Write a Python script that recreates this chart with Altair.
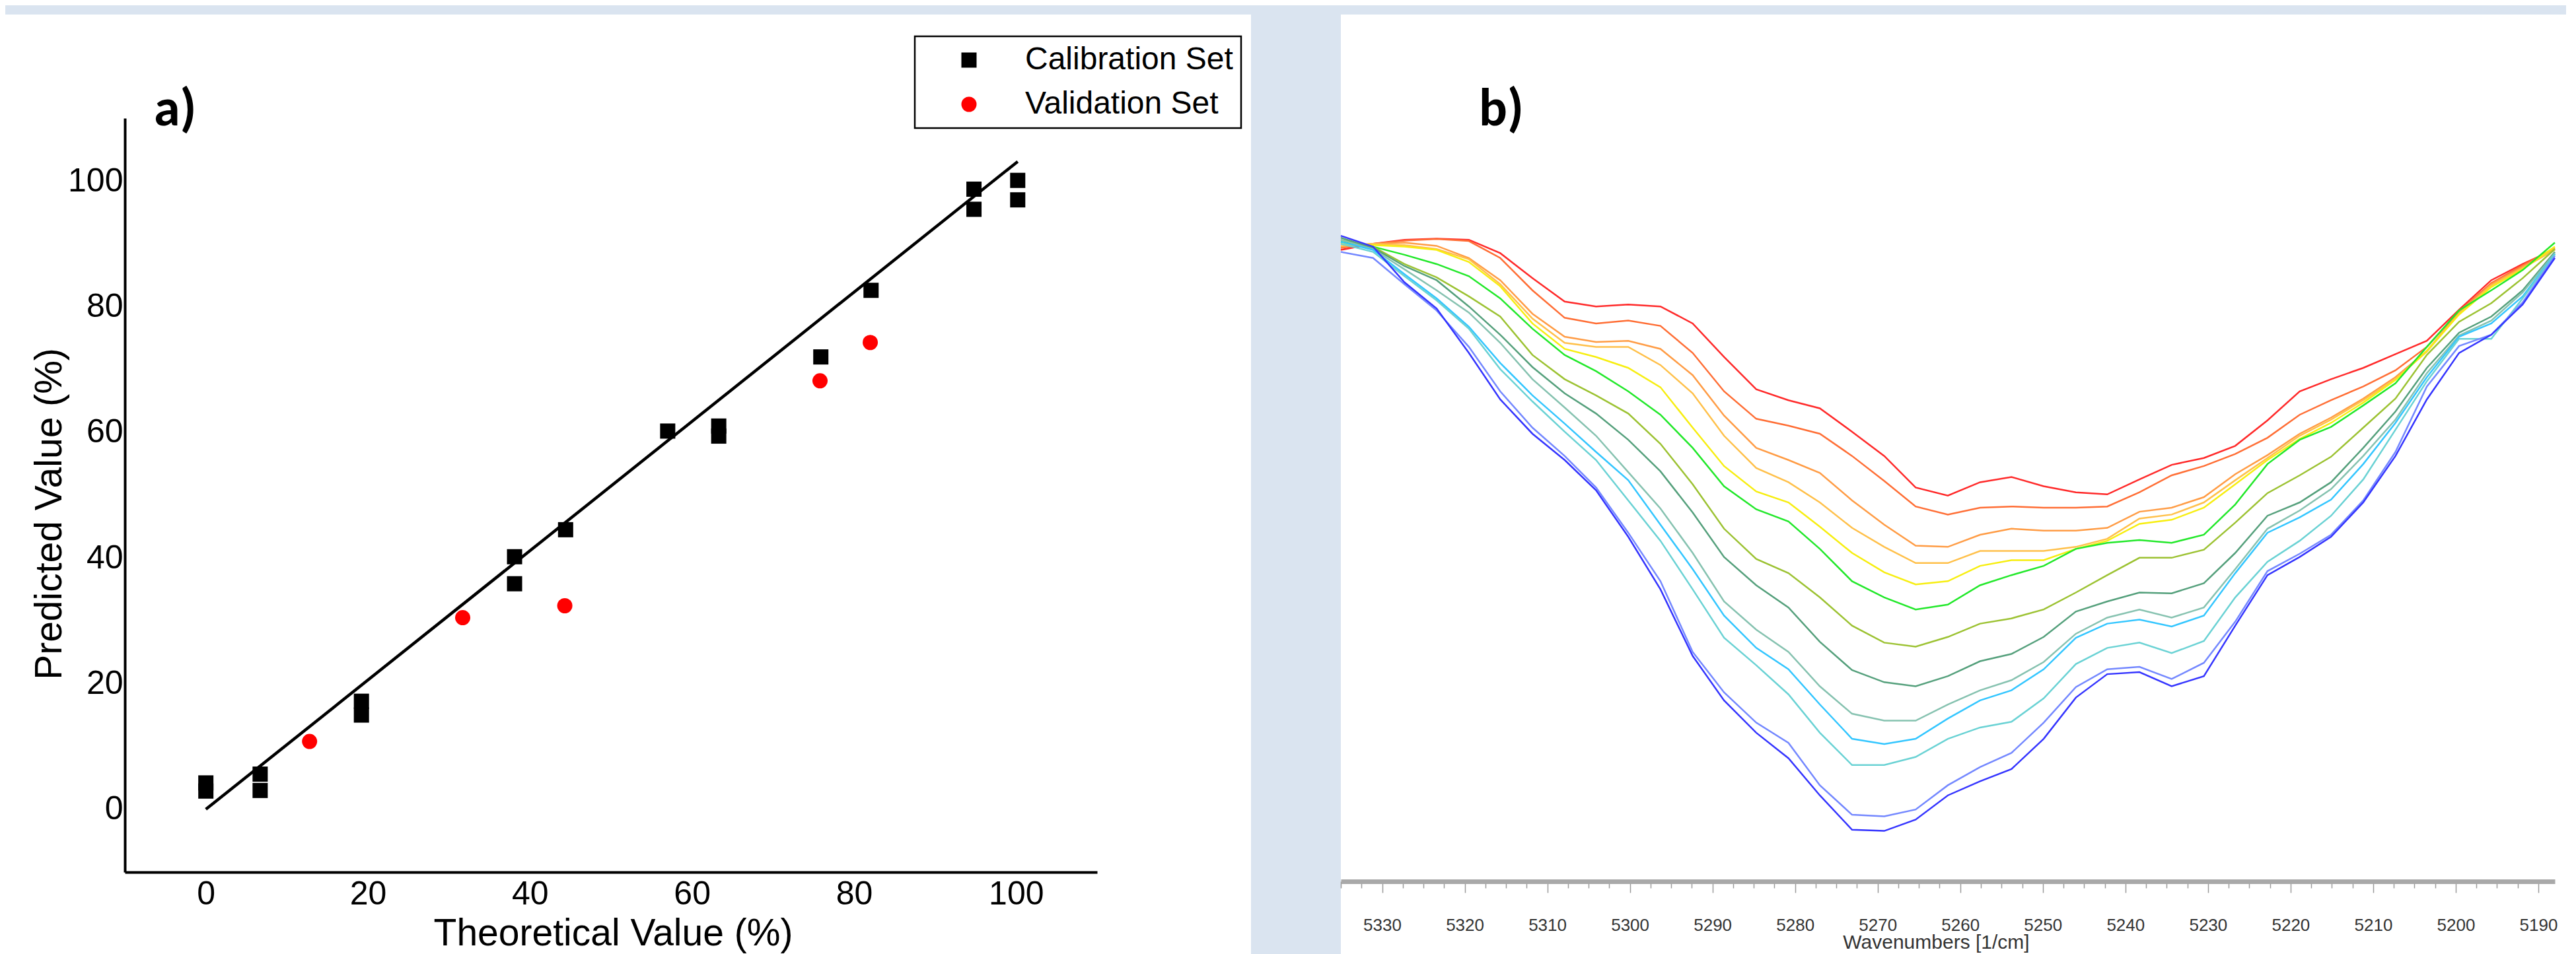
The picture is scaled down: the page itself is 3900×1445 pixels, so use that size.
import altair as alt
import pandas as pd

NARROW = "Liberation Sans Narrow, Arial Narrow, Liberation Sans, Arial"
SANS = "Liberation Sans, Arial"
BOLD = "Carlito, Lato, Open Sans"

# ---------------- panel a) data ----------------
cal_x = [0, 0, 6.7, 6.7, 19.2, 19.2, 38.1, 38.1, 44.4, 57.0, 63.3, 63.3, 75.9, 82.1, 94.8, 94.8, 100.2, 100.2]
cal_y = [4.2, 2.9, 5.6, 3.0, 17.2, 15.0, 40.2, 35.9, 44.5, 60.2, 61.0, 59.4, 72.0, 82.6, 98.7, 95.5, 100.1, 97.0]
val_x = [12.8, 31.7, 44.3, 75.8, 82.0]
val_y = [10.8, 30.5, 32.4, 68.2, 74.3]
fit_x = [0, 100.2]
fit_y = [0.0, 103.1]
axis_ticks_a = [0, 20, 40, 60, 80, 100]
set_names = ["Calibration Set", "Validation Set"]

# ---------------- panel b) data ----------------
wavenumbers = [5335.0, 5331.1, 5327.3, 5323.4, 5319.5, 5315.7, 5311.8, 5307.9, 5304.1, 5300.2,
               5296.3, 5292.4, 5288.6, 5284.7, 5280.8, 5277.0, 5273.1, 5269.2, 5265.4, 5261.5,
               5257.6, 5253.8, 5249.9, 5246.0, 5242.2, 5238.3, 5234.4, 5230.5, 5226.7, 5222.8,
               5218.9, 5215.1, 5211.2, 5207.3, 5203.5, 5199.6, 5195.7, 5191.9, 5188.0]

s_red = [1.540, 1.555, 1.565, 1.568, 1.565, 1.532, 1.470, 1.412, 1.400, 1.405, 1.400, 1.358, 1.275,
         1.195, 1.168, 1.148, 1.090, 1.030, 0.952, 0.932, 0.965, 0.978, 0.955, 0.940, 0.935, 0.972,
         1.008, 1.025, 1.055, 1.118, 1.190, 1.220, 1.248, 1.282, 1.315, 1.392, 1.465, 1.505, 1.542]
s_tomato = [1.545, 1.555, 1.563, 1.567, 1.562, 1.520, 1.440, 1.372, 1.358, 1.365, 1.352, 1.285, 1.190,
            1.122, 1.105, 1.085, 1.030, 0.968, 0.905, 0.885, 0.902, 0.905, 0.902, 0.902, 0.905, 0.940,
            0.982, 1.005, 1.035, 1.075, 1.132, 1.168, 1.202, 1.242, 1.300, 1.388, 1.458, 1.502, 1.545]
s_orange = [1.548, 1.555, 1.558, 1.550, 1.520, 1.465, 1.382, 1.325, 1.312, 1.315, 1.295, 1.230, 1.130,
            1.050, 1.020, 0.988, 0.920, 0.860, 0.808, 0.805, 0.835, 0.850, 0.845, 0.845, 0.852, 0.892,
            0.902, 0.928, 0.985, 1.032, 1.085, 1.125, 1.172, 1.225, 1.290, 1.385, 1.455, 1.498, 1.542]
s_gold = [1.550, 1.555, 1.552, 1.542, 1.517, 1.455, 1.370, 1.310, 1.300, 1.300, 1.255, 1.185, 1.080,
          1.000, 0.965, 0.915, 0.852, 0.805, 0.765, 0.765, 0.795, 0.795, 0.795, 0.805, 0.825, 0.875,
          0.885, 0.915, 0.970, 1.025, 1.080, 1.120, 1.168, 1.220, 1.288, 1.382, 1.452, 1.495, 1.540]
s_yellow = [1.555, 1.552, 1.548, 1.540, 1.510, 1.450, 1.358, 1.295, 1.275, 1.248, 1.200, 1.100, 1.005,
            0.942, 0.915, 0.855, 0.790, 0.742, 0.712, 0.720, 0.758, 0.772, 0.772, 0.800, 0.820, 0.862,
            0.872, 0.902, 0.960, 1.020, 1.072, 1.112, 1.162, 1.218, 1.290, 1.380, 1.448, 1.492, 1.548]
s_green = [1.560, 1.548, 1.528, 1.505, 1.475, 1.420, 1.345, 1.280, 1.240, 1.190, 1.132, 1.050, 0.955,
           0.898, 0.868, 0.800, 0.720, 0.680, 0.650, 0.662, 0.710, 0.735, 0.758, 0.800, 0.815, 0.822,
           0.815, 0.835, 0.910, 1.010, 1.070, 1.102, 1.155, 1.210, 1.300, 1.390, 1.440, 1.490, 1.558]
s_ygreen = [1.565, 1.548, 1.505, 1.472, 1.425, 1.375, 1.280, 1.220, 1.180, 1.135, 1.060, 0.960, 0.850,
            0.775, 0.740, 0.680, 0.610, 0.568, 0.558, 0.582, 0.615, 0.628, 0.650, 0.692, 0.735, 0.778,
            0.778, 0.798, 0.865, 0.938, 0.982, 1.028, 1.100, 1.172, 1.280, 1.362, 1.408, 1.470, 1.542]
s_seagreen = [1.570, 1.545, 1.500, 1.465, 1.400, 1.330, 1.250, 1.185, 1.135, 1.070, 0.992, 0.890, 0.780,
              0.710, 0.655, 0.570, 0.500, 0.470, 0.460, 0.485, 0.522, 0.540, 0.582, 0.645, 0.670, 0.692,
              0.690, 0.715, 0.790, 0.882, 0.915, 0.965, 1.050, 1.140, 1.248, 1.335, 1.375, 1.440, 1.535]
s_grayteal = [1.565, 1.542, 1.492, 1.440, 1.385, 1.310, 1.220, 1.150, 1.080, 0.990, 0.900, 0.790, 0.670,
              0.600, 0.545, 0.460, 0.392, 0.375, 0.375, 0.415, 0.450, 0.475, 0.520, 0.590, 0.630, 0.650,
              0.630, 0.655, 0.750, 0.850, 0.895, 0.948, 1.030, 1.120, 1.235, 1.328, 1.365, 1.435, 1.532]
s_deepsky = [1.560, 1.540, 1.480, 1.420, 1.350, 1.260, 1.180, 1.110, 1.040, 0.970, 0.860, 0.750, 0.635,
             0.555, 0.502, 0.415, 0.330, 0.317, 0.330, 0.380, 0.425, 0.450, 0.502, 0.580, 0.615, 0.625,
             0.608, 0.635, 0.740, 0.840, 0.878, 0.922, 1.010, 1.112, 1.225, 1.325, 1.358, 1.425, 1.530]
s_turq = [1.555, 1.535, 1.475, 1.415, 1.345, 1.245, 1.165, 1.090, 1.020, 0.920, 0.820, 0.700, 0.580,
          0.512, 0.440, 0.345, 0.265, 0.265, 0.285, 0.330, 0.358, 0.372, 0.430, 0.515, 0.555, 0.568,
          0.542, 0.572, 0.680, 0.768, 0.820, 0.882, 0.972, 1.095, 1.215, 1.320, 1.320, 1.420, 1.528]
s_lightblue = [1.535, 1.520, 1.455, 1.390, 1.300, 1.190, 1.100, 1.030, 0.952, 0.840, 0.720, 0.545, 0.445,
               0.370, 0.320, 0.215, 0.142, 0.138, 0.155, 0.215, 0.260, 0.295, 0.370, 0.458, 0.502, 0.508,
               0.478, 0.518, 0.620, 0.745, 0.788, 0.835, 0.920, 1.040, 1.202, 1.302, 1.330, 1.410, 1.525]
s_blue = [1.575, 1.548, 1.460, 1.395, 1.285, 1.170, 1.085, 1.020, 0.945, 0.830, 0.700, 0.535, 0.425,
          0.345, 0.282, 0.190, 0.105, 0.102, 0.130, 0.190, 0.225, 0.255, 0.330, 0.432, 0.490, 0.495,
          0.460, 0.485, 0.610, 0.735, 0.780, 0.830, 0.915, 1.030, 1.170, 1.285, 1.330, 1.405, 1.520]

series_names = ["S01", "S02", "S03", "S04", "S05", "S06", "S07", "S08", "S09", "S10", "S11", "S12", "S13"]
series_values = [s_red, s_tomato, s_orange, s_gold, s_yellow, s_green, s_ygreen, s_seagreen,
                 s_grayteal, s_deepsky, s_turq, s_lightblue, s_blue]
series_colors = ["#ff2a2a", "#ff6e35", "#ff9c45", "#ffc04a", "#f7ee10", "#22e82a", "#9cc232", "#55a07c",
                 "#86c2b0", "#33c6ff", "#6ad2d4", "#7488ff", "#3434ff"]
axis_ticks_b = [5190 + 2.5 * i for i in range(59)]

# ---------------- build frames ----------------
df_pts = pd.DataFrame({
    "theo": cal_x + val_x,
    "pred": cal_y + val_y,
    "set": [set_names[0]] * len(cal_x) + [set_names[1]] * len(val_x),
})
df_fit = pd.DataFrame({"theo": fit_x, "pred": fit_y})
rows = []
for name, vals in zip(series_names, series_values):
    for wn, v in zip(wavenumbers, vals):
        rows.append({"sample": name, "wn": wn, "abs": v})
df_spec = pd.DataFrame(rows)
one = pd.DataFrame({"p": [0]})

# ---------------- panel a ----------------
W1, H1 = 1472, 1142
xs_a = alt.Scale(domain=[-10, 110], nice=False, zero=False)
ys_a = alt.Scale(domain=[-10, 110], nice=False, zero=False)

legend_a = alt.Legend(title=None, orient="none", legendX=1196, legendY=-124,
                      fillColor="white", strokeColor="black",
                      padding=12, symbolOffset=46, labelOffset=61,
                      labelFont=SANS, labelFontSize=48, labelColor="black", labelLimit=0,
                      rowPadding=19, symbolSize=529, symbolOpacity=1, symbolStrokeWidth=0)

bg_a = alt.Chart(one).mark_rect(color="white").encode(
    x=alt.value(-181), x2=alt.value(1705), y=alt.value(-157), y2=alt.value(1280))

pts = alt.Chart(df_pts).mark_point(filled=True, size=529, opacity=1).encode(
    x=alt.X("theo:Q", scale=xs_a, axis=alt.Axis(
        values=axis_ticks_a, ticks=False, tickSize=0, grid=False, zindex=1,
        domainColor="black", domainWidth=4,
        labelFont=NARROW, labelFontSize=50, labelColor="black", labelPadding=8,
        title="Theoretical Value (%)", titleFont=SANS, titleFontSize=57, titleFontWeight="normal",
        titleColor="black", titleX=739, titleY=93, titleBaseline="middle", titleAlign="center")),
    y=alt.Y("pred:Q", scale=ys_a, axis=alt.Axis(
        values=axis_ticks_a, ticks=False, tickSize=0, grid=False, zindex=1,
        domainColor="black", domainWidth=4,
        labelFont=NARROW, labelFontSize=50, labelColor="black", labelPadding=3,
        title="Predicted Value (%)", titleFont=SANS, titleFontSize=57, titleFontWeight="normal",
        titleColor="black", titleAngle=270, titleX=-114, titleY=599,
        titleBaseline="middle", titleAlign="center")),
    color=alt.Color("set:N", scale=alt.Scale(domain=set_names, range=["#000000", "#ff0000"]), legend=legend_a),
    shape=alt.Shape("set:N", scale=alt.Scale(domain=set_names, range=["square", "circle"]), legend=legend_a),
)

fit = alt.Chart(df_fit).mark_line(color="black", strokeWidth=4.5).encode(
    x=alt.X("theo:Q", scale=xs_a), y=alt.Y("pred:Q", scale=ys_a))

lab_a = alt.Chart(one).mark_text(text="a)", font=BOLD, fontWeight="bold", fontSize=80,
                                 align="left", baseline="alphabetic", color="black").encode(
    x=alt.value(44), y=alt.value(11))

panel_a = alt.layer(bg_a, pts, fit, lab_a).properties(width=W1, height=H1)

# ---------------- panel b ----------------
W2, H2 = 1838, 1142
bg_b = alt.Chart(one).mark_rect(color="white").encode(
    x=alt.value(0), x2=alt.value(1855), y=alt.value(-157), y2=alt.value(1280))

spec = alt.Chart(df_spec).mark_line(strokeWidth=2.5).encode(
    x=alt.X("wn:Q", scale=alt.Scale(domain=[5188, 5335], reverse=True, nice=False, zero=False),
            axis=alt.Axis(values=axis_ticks_b, offset=14, grid=False, zindex=1,
                          domainColor="#a9a9a9", domainWidth=7,
                          tickColor="#9a9a9a", tickWidth=1.5,
                          tickSize={"condition": {"test": "datum.value % 10 === 0", "value": 17}, "value": 10},
                          labelExpr="datum.value % 10 === 0 ? format(datum.value, 'd') : ''",
                          labelOverlap=False, labelFlush=False,
                          labelFont=NARROW, labelFontSize=26, labelColor="#333333", labelPadding=36,
                          title="Wavenumbers [1/cm]", titleFont=NARROW, titleFontSize=30,
                          titleFontWeight="normal", titleColor="#333333",
                          titleX=901, titleY=92, titleBaseline="middle", titleAlign="center")),
    y=alt.Y("abs:Q", scale=alt.Scale(domain=[0, 1.866], nice=False, zero=False), axis=None),
    color=alt.Color("sample:N", scale=alt.Scale(domain=series_names, range=series_colors), legend=None),
)

lab_b = alt.Chart(one).mark_text(text="b)", font=BOLD, fontWeight="bold", fontSize=80,
                                 align="left", baseline="alphabetic", color="black").encode(
    x=alt.value(209), y=alt.value(11))

panel_b = alt.layer(bg_b, spec, lab_b).properties(width=W2, height=H2)

chart = alt.hconcat(panel_a, panel_b, spacing=131).resolve_scale(
    color="independent", shape="independent"
).properties(
    background="#dae4f0",
    padding={"left": 0, "top": 14, "right": 0, "bottom": 0},
).configure_view(strokeWidth=0).configure_legend(strokeWidth=2.5)

chart.save("out.html", embed_options={"renderer": "svg", "actions": False})
